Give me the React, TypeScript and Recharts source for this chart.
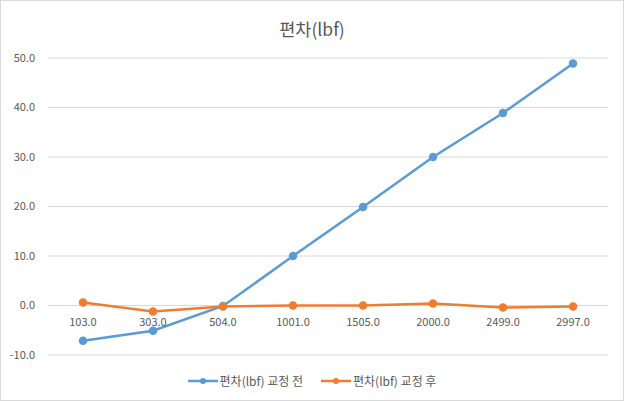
import { LineChart, Line, XAxis, YAxis, CartesianGrid } from 'recharts';

const categories = ['103.0', '303.0', '504.0', '1001.0', '1505.0', '2000.0', '2499.0', '2997.0'];
const beforeValues = [-7.1, -5.1, -0.1, 10.0, 19.9, 30.0, 38.9, 48.9];
const afterValues = [0.6, -1.2, -0.2, 0.0, 0.0, 0.4, -0.4, -0.2];
const yTicks = [-10, 0, 10, 20, 30, 40, 50];
const seriesNames = ['편차(lbf) 교정 전', '편차(lbf) 교정 후'];
const seriesColors = ['#5B9BD5', '#ED7D31'];

const W = 624;
const H = 401;
const X_AXIS_H = 30;
const Y_AXIS_W = 48;
const margin = { top: 58, right: 16, bottom: 46 - X_AXIS_H, left: 0 };
const yMin = -10;
const yMax = 50;
const plotHeight = H - margin.top - margin.bottom - X_AXIS_H;
const plotWidth = W - margin.left - margin.right - Y_AXIS_W;
const halfBand = plotWidth / categories.length / 2;
// distance from bottom of plot to the zero line (labels sit under zero, like Excel)
const zeroFromBottom = (plotHeight * (0 - yMin)) / (yMax - yMin);

const font = '"Noto Sans CJK KR", "Noto Sans", sans-serif';

const data = categories.map((c, i) => ({
  name: c,
  before: beforeValues[i],
  after: afterValues[i],
}));

const ZeroTick = (props: any) => {
  const { x, y, payload } = props;
  return (
    <text
      x={x}
      y={y - zeroFromBottom + 5}
      dy="0.71em"
      textAnchor="middle"
      fill="#595959"
      fontSize={11}
      fontFamily={font}
    >
      {payload.value}
    </text>
  );
};

export default function App() {
  return (
    <div style={{ position: 'relative', width: W, height: H, fontFamily: font }}>
      <style>{'body{margin:0}'}</style>
      <div
        style={{
          position: 'absolute',
          inset: 0,
          border: '1px solid #d9d9d9',
          boxSizing: 'border-box',
          pointerEvents: 'none',
        }}
      />
      <div
        style={{
          position: 'absolute',
          top: 16,
          left: 0,
          width: W,
          textAlign: 'center',
          fontSize: 17.5,
          color: '#595959',
          lineHeight: '26px',
        }}
      >
        편차(lbf)
      </div>
      <LineChart width={W} height={H} data={data} margin={margin}>
        <CartesianGrid vertical={false} stroke="#d9d9d9" />
        <XAxis
          dataKey="name"
          height={X_AXIS_H}
          axisLine={false}
          tickLine={false}
          tick={<ZeroTick />}
          interval={0}
          padding={{ left: halfBand, right: halfBand }}
        />
        <YAxis
          domain={[yMin, yMax]}
          ticks={yTicks}
          width={Y_AXIS_W}
          axisLine={false}
          tickLine={false}
          tickMargin={7}
          tickFormatter={(v: number) => v.toFixed(1)}
          tick={{ fill: '#595959', fontSize: 11, fontFamily: font }}
        />
        <Line
          dataKey="before"
          stroke={seriesColors[0]}
          strokeWidth={2.5}
          dot={{ r: 3, fill: seriesColors[0], stroke: seriesColors[0] }}
          isAnimationActive={false}
        />
        <Line
          dataKey="after"
          stroke={seriesColors[1]}
          strokeWidth={2.5}
          dot={{ r: 3, fill: seriesColors[1], stroke: seriesColors[1] }}
          isAnimationActive={false}
        />
      </LineChart>
      <div
        style={{
          position: 'absolute',
          top: 372,
          left: 0,
          width: W,
          display: 'flex',
          justifyContent: 'center',
          gap: 18,
          fontSize: 12,
          color: '#595959',
        }}
      >
        {seriesNames.map((n, i) => (
          <div key={n} style={{ display: 'flex', alignItems: 'center' }}>
            <svg width={30} height={18}>
              <line x1={0} y1={9} x2={30} y2={9} stroke={seriesColors[i]} strokeWidth={2.5} />
              <circle cx={15} cy={9} r={3} fill={seriesColors[i]} />
            </svg>
            <span style={{ marginLeft: 2, lineHeight: '18px' }}>{n}</span>
          </div>
        ))}
      </div>
    </div>
  );
}
